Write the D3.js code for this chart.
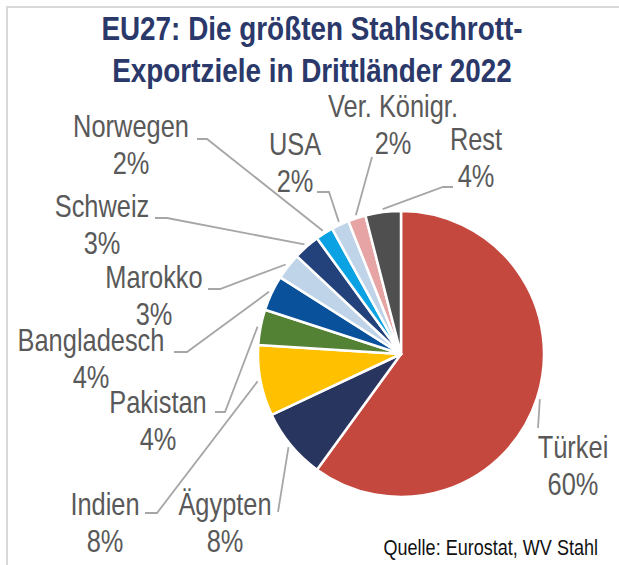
<!DOCTYPE html>
<html>
<head>
<meta charset="utf-8">
<script src="https://cdn.jsdelivr.net/npm/d3@7"></script>
<style>
  body { margin: 0; background: #fff; }
  svg { display: block; }
</style>
</head>
<body>
<div id="chart"></div>
<script>
// data
var countries = ['Türkei', 'Ägypten', 'Indien', 'Pakistan', 'Bangladesch', 'Marokko',
                 'Schweiz', 'Norwegen', 'USA', 'Ver. Königr.', 'Rest'];
var shares = [60, 8, 8, 4, 4, 3, 3, 2, 2, 2, 4];
var titleLines = ['EU27: Die größten Stahlschrott-', 'Exportziele in Drittländer 2022'];
var sourceText = 'Quelle: Eurostat, WV Stahl';

var colors = ['#c5483f', '#28355f', '#ffc000', '#548235', '#0a519b', '#c0d4e9',
              '#23417a', '#0aa2e2', '#c0d4e9', '#e6a4a4', '#4f4f4f'];

// label placement: text centre x, first baseline y, leader points (elbow, end)
var labelLayout = [
  {x: 573, y: 458, pts: [[538, 428]]},
  {x: 225, y: 515, pts: [[278, 512]]},
  {x: 105, y: 515, pts: [[157, 513], [145, 513]]},
  {x: 158, y: 413, pts: [[225, 412], [215, 412]]},
  {x: 91,  y: 351, pts: [[187, 352], [174, 352]]},
  {x: 154, y: 288, pts: [[220, 289], [208, 289]]},
  {x: 102, y: 217, pts: [[167, 218], [155, 218]]},
  {x: 131, y: 137, pts: [[207, 139], [197, 139]]},
  {x: 295, y: 155, pts: [[329, 192], [317, 192]]},
  {x: 393, y: 117, pts: [[372, 157]]},
  {x: 476, y: 150, pts: [[443, 187], [453, 187]]}
];

var width = 619, height = 565;
var cx = 401, cy = 354, radius = 143;
var squeeze = 0.82;   // narrow font look
var lineGap = 37;

var svg = d3.select('#chart').append('svg')
    .attr('width', width)
    .attr('height', height);

svg.append('rect')
    .attr('x', 7).attr('y', 7)
    .attr('width', 700).attr('height', 700)
    .attr('fill', 'none')
    .attr('stroke', '#d9d9d9')
    .attr('stroke-width', 2);

function narrowText(g, x, y, str) {
  return g.append('text')
    .attr('transform', 'translate(' + x + ',' + y + ') scale(' + squeeze + ',1)')
    .attr('text-anchor', 'middle')
    .text(str);
}

// title
var titleG = svg.append('g')
    .attr('font-family', "'Liberation Sans', Arial, sans-serif")
    .attr('font-weight', 'bold')
    .attr('font-size', 34)
    .attr('fill', '#2b386a');
titleLines.forEach(function(t, i) {
  narrowText(titleG, 312, 40 + i * 42, t);
});

var data = countries.map(function(c, i) { return {name: c, value: shares[i]}; });

var pie = d3.pie()
    .sort(null)
    .value(d => d.value);

var arc = d3.arc()
    .innerRadius(0)
    .outerRadius(radius);

var arcs = pie(data);

var pieG = svg.append('g')
    .attr('transform', 'translate(' + cx + ',' + cy + ')');

pieG.selectAll('path.slice')
    .data(arcs)
    .enter().append('path')
    .attr('class', 'slice')
    .attr('d', arc)
    .attr('fill', (d, i) => colors[i])
    .attr('stroke', '#fff')
    .attr('stroke-width', 2.5)
    .attr('stroke-linejoin', 'round');

// leader lines
var leader = d3.line();
svg.selectAll('path.leader')
    .data(arcs)
    .enter().append('path')
    .attr('class', 'leader')
    .attr('d', function(d, i) {
      var a = (d.startAngle + d.endAngle) / 2;
      var start = [cx + Math.sin(a) * (radius + 3), cy - Math.cos(a) * (radius + 3)];
      return leader([start].concat(labelLayout[i].pts));
    })
    .attr('fill', 'none')
    .attr('stroke', '#a6a6a6')
    .attr('stroke-width', 1.8);

// labels
var labelG = svg.append('g')
    .attr('font-family', "'Liberation Sans', Arial, sans-serif")
    .attr('font-size', 31)
    .attr('fill', '#595959');
arcs.forEach(function(d, i) {
  var L = labelLayout[i];
  narrowText(labelG, L.x, L.y, d.data.name);
  narrowText(labelG, L.x, L.y + lineGap, d.data.value + '%');
});

// source
svg.append('text')
    .attr('transform', 'translate(598,555) scale(' + squeeze + ',1)')
    .attr('text-anchor', 'end')
    .attr('font-family', "'Liberation Sans', Arial, sans-serif")
    .attr('font-size', 22)
    .attr('fill', '#111')
    .text(sourceText);
</script>
</body>
</html>
